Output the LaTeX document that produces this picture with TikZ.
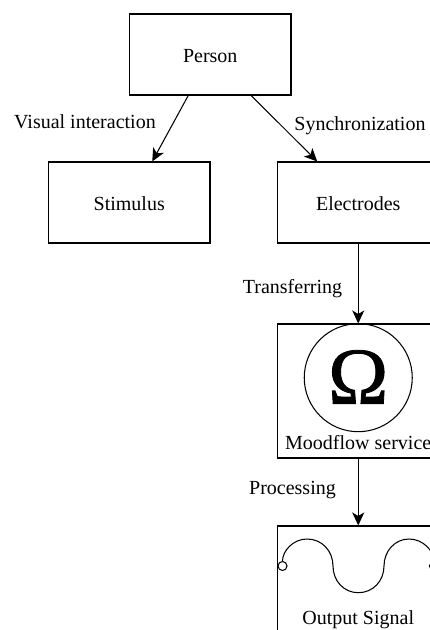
\documentclass[tikz,border=0pt]{standalone}
\usepackage{fontspec}
\setmainfont{Liberation Serif}
\newfontfamily\omfont[FakeBold=1]{Liberation Serif}
\usetikzlibrary{arrows.meta}
\tikzset{
 x=1pt,y=-1pt,
 box/.style={draw=black,line width=1.05pt,minimum width=161.5pt,minimum height=81pt,inner sep=0pt,text height=15pt,text depth=0pt,font=\fontsize{20}{22}\selectfont},
 tallbox/.style={box,minimum height=134pt},
 lbl/.style={inner sep=0pt,text height=15pt,text depth=0pt,font=\fontsize{20}{22}\selectfont},
 conn/.style={draw=black,line width=1.05pt,-{Stealth[length=13pt,width=12pt,inset=3.5pt]}},
 wave/.style={draw=black,line width=1.05pt},
}
\begin{document}
\begin{tikzpicture}
\useasboundingbox (0,0) rectangle (430,630);
\clip (0,0) rectangle (430,630);
\node[box] (person) at (210.25,54.5) {Person};
\node[box] (stimulus) at (129.25,202.5) {Stimulus};
\node[box] (electrodes) at (358.25,202.5) {Electrodes};
\node[tallbox] (moodflow) at (358.25,391) {};
\node[tallbox] (output) at (358.25,593) {};
\node[circle,draw=black,line width=1.05pt,minimum size=108pt,inner sep=0pt] (omega) at (358.25,377.7) {};
\node[inner sep=0pt,font=\fontsize{81}{81}\selectfont\omfont] (omegaglyph) at (358.25,377) {Ω};
\node[lbl] (mflabel) at (358.25,441.8) {Moodflow service};
\node[lbl] (oslabel) at (358.25,616.8) {Output Signal};
\node[lbl] (l1) at (85,120.8) {Visual interaction};
\node[lbl] (l2) at (360,123.2) {Synchronization};
\node[lbl] (l3) at (292.5,285.8) {Transferring};
\node[lbl] (l4) at (292.5,486.5) {Processing};
\draw[conn] ([xshift=-22pt]person.south) -- ([xshift=23pt]stimulus.north);
\draw[conn] ([xshift=41pt]person.south) -- ([xshift=-41pt]electrodes.north);
\draw[conn] (electrodes.south) -- (moodflow.north);
\draw[conn] (moodflow.south) -- (output.north);
\node[circle,draw=black,line width=1.05pt,minimum size=9pt,inner sep=0pt] (c1) at (282.5,566) {};
\node[circle,draw=black,line width=1.05pt,minimum size=9pt,inner sep=0pt] (c2) at (434,566) {};
\draw[wave] (c1.north) .. controls (282.5,551) and (293,539) .. (307,539)
  .. controls (322,539) and (333,551) .. (333,566)
  .. controls (333,581) and (344,592.7) .. (358.25,592.7)
  .. controls (373,592.7) and (384,581) .. (384,566)
  .. controls (384,551) and (395,539) .. (409,539)
  .. controls (423,539) and (434,551) .. (c2.north);
\end{tikzpicture}
\end{document}
